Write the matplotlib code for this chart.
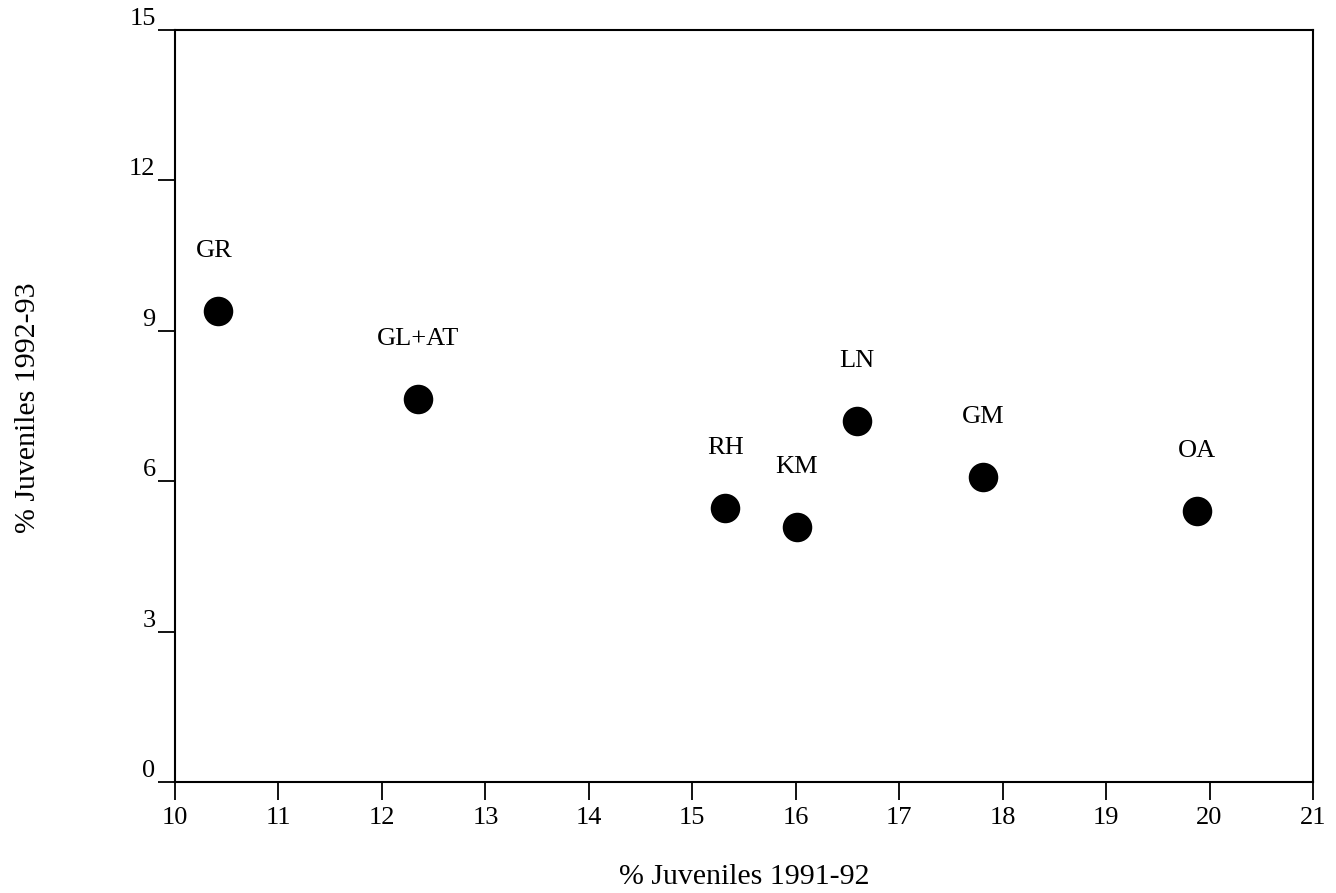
import matplotlib

matplotlib.use("Agg")
import matplotlib.pyplot as plt

plt.rcParams["font.family"] = ["Liberation Serif", "DejaVu Serif"]

# Sites and their juvenile percentages in two seasons
sites = ["GR", "GL+AT", "RH", "KM", "LN", "GM", "OA"]
juv_1991_92 = [10.42, 12.35, 15.32, 16.01, 16.59, 17.81, 19.88]
juv_1992_93 = [9.40, 7.64, 5.47, 5.09, 7.21, 6.09, 5.41]

x_ticks = list(range(10, 22))
y_ticks = [0, 3, 6, 9, 12, 15]


def main() -> None:
    fig = plt.figure(figsize=(13.36, 8.93), dpi=100)
    ax = fig.add_axes([175 / 1336, 1 - 782 / 893, 1138 / 1336, 752 / 893])

    ax.scatter(juv_1991_92, juv_1992_93, s=410, color="black", zorder=3)

    # site names sit a fixed distance above each marker
    for name, x, y in zip(sites, juv_1991_92, juv_1992_93):
        dx = -3 if name == "GR" else 0
        ax.annotate(
            name,
            (x, y),
            xytext=(dx, 43),
            textcoords="offset points",
            ha="center",
            va="center",
            fontsize=19,
        )

    ax.set_xlim(10, 21)
    ax.set_ylim(0, 15)
    ax.set_xticks(x_ticks)
    ax.set_yticks(y_ticks)

    ax.tick_params(axis="x", direction="out", length=13, width=1.3, pad=5, labelsize=19)
    ax.tick_params(axis="y", direction="out", length=12, width=1.3, pad=2, labelsize=19)
    for label in ax.get_yticklabels():
        label.set_verticalalignment("bottom")

    for spine in ax.spines.values():
        spine.set_linewidth(1.5)

    fig.text(744 / 1336, 1 - 877 / 893, "% Juveniles 1991-92", ha="center", va="center", fontsize=21.5)
    fig.text(28 / 1336, 1 - 408 / 893, "% Juveniles 1992-93", ha="center", va="center",
             rotation=90, fontsize=21.5)

    fig.savefig("out.png", dpi=100)


if __name__ == "__main__":
    main()
